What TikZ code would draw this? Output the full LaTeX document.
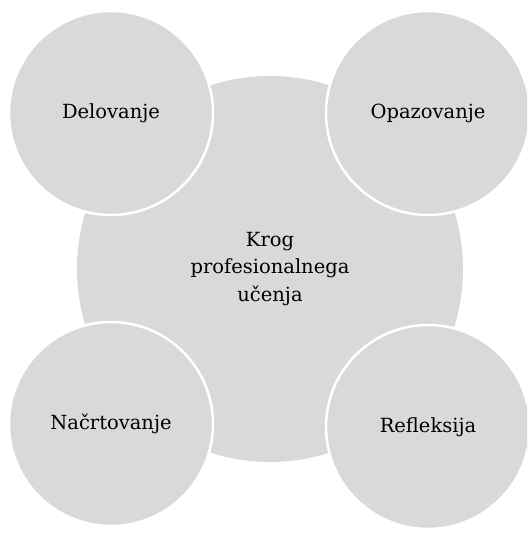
\documentclass[tikz,border=0pt]{standalone}
\usepackage{fontspec}
\setmainfont{DejaVu Serif}
\usepackage{tikz}
\usetikzlibrary{shapes, positioning}
\definecolor{circgray}{RGB}{217, 217, 217}

\begin{document}
\begin{tikzpicture}[x=1pt, y=-1pt,
  phase/.style={circle, fill=circgray, draw=white, line width=2.5pt, minimum size=204pt, inner sep=0pt, font=\fontsize{19.5}{26}\selectfont}]
  \useasboundingbox (0, 0) rectangle (527, 534);
  \clip (0, 0) rectangle (527, 534);

  % Central circle
  \node[circle, fill=circgray, minimum size=386pt, inner sep=0pt, align=center, font=\fontsize{19.5}{27.5}\selectfont] (centre) at (270, 269) {Krog\\profesionalnega\\učenja};

  % Delovanje
  \node[phase] (delovanje) at (111, 113) {Delovanje};

  % Opazovanje
  \node[phase] (opazovanje) at (428, 113) {Opazovanje};

  % Načrtovanje
  \node[phase] (nacrtovanje) at (111, 424) {Načrtovanje};

  % Refleksija
  \node[phase] (refleksija) at (428, 427) {Refleksija};
\end{tikzpicture}
\end{document}
